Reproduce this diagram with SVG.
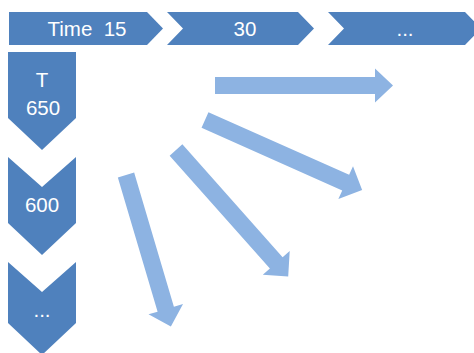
<svg xmlns="http://www.w3.org/2000/svg" width="474" height="353" viewBox="0 0 474 353">
<style>
.n{fill:#4F81BD}
.t{fill:#fff;font-family:"Liberation Sans",Arial,sans-serif;font-size:20.5px;text-anchor:middle;white-space:pre}
.a{fill:#8DB3E2}
</style>
<rect width="474" height="353" fill="#fff"/>
<g id="time15"><path class="n" d="M9,12 H147 L163,28.5 L147,45 H9 Z"/><text class="t" x="87" y="35.5" xml:space="preserve">Time  15</text></g>
<g id="time30"><path class="n" d="M167,12 H298 L314,28.5 L298,45 H167 L183,28.5 Z"/><text class="t" x="245" y="35.5">30</text></g>
<g id="timeMore"><path class="n" d="M328,12 H465 L481,28.5 L465,45 H328 L344,28.5 Z"/><text class="t" x="405" y="35.5">...</text></g>
<g id="t650"><path class="n" d="M8,52 H76 V118 L42,150 L8,118 Z"/><text class="t" x="42" y="87">T</text><text class="t" x="43" y="115">650</text></g>
<g id="t600"><path class="n" d="M8,157 L42,187 L76,157 V223 L42,255 L8,223 Z"/><text class="t" x="42" y="212">600</text></g>
<g id="tMore"><path class="n" d="M8,262 L42,292 L76,262 V323 L42,355 L8,323 Z"/><text class="t" x="42" y="317">...</text></g>
<g id="connectors">
<path class="a" transform="translate(215,85.5)" d="M0,-8.5 H160 V-17 L178,0 L160,17 V8.5 H0 Z"/>
<path class="a" transform="translate(205,120) rotate(24)" d="M0,-8.5 H154 V-18 L172,0 L154,18 V8.5 H0 Z"/>
<path class="a" transform="translate(176,150) rotate(48.4)" d="M0,-8.5 H151 V-18 L169,0 L151,18 V8.5 H0 Z"/>
<path class="a" transform="translate(126,175) rotate(73.5)" d="M0,-8.5 H140 V-18 L158,0 L140,18 V8.5 H0 Z"/>
</g>
</svg>
